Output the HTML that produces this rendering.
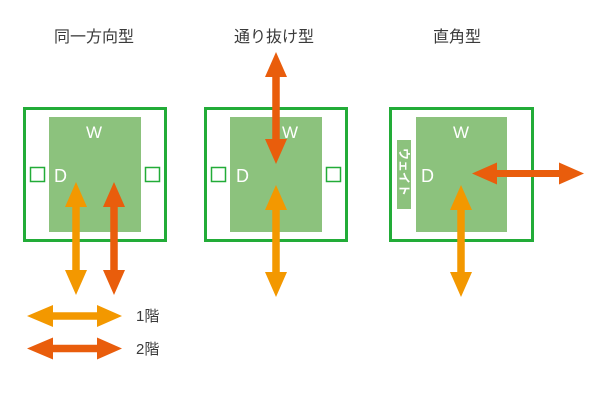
<!DOCTYPE html>
<html><head><meta charset="utf-8"><style>
html,body{margin:0;padding:0;background:#fff;}
svg{display:block;}
text{font-family:"Liberation Sans","Noto Sans CJK JP",sans-serif;}
</style></head><body>
<svg width="600" height="400" viewBox="0 0 600 400" xmlns="http://www.w3.org/2000/svg">
<rect width="600" height="400" fill="#fff"/>
<!-- titles -->
<g fill="#3a3a3a" font-size="16" text-anchor="middle">
<text x="94" y="42">同一方向型</text>
<text x="274" y="42">通り抜け型</text>
<text x="457" y="42">直角型</text>
</g>
<!-- panel 1 -->
<rect x="24.5" y="108.5" width="141" height="132" fill="none" stroke="#22ac38" stroke-width="3"/>
<rect x="49" y="117" width="92" height="115" fill="#8cc27d"/>
<rect x="30.5" y="167.5" width="14" height="14" fill="none" stroke="#22ac38" stroke-width="1.5"/>
<rect x="145.5" y="167.5" width="14" height="14" fill="none" stroke="#22ac38" stroke-width="1.5"/>
<text x="94" y="138" fill="#fff" font-size="17" text-anchor="middle">W</text>
<text x="54" y="182" fill="#fff" font-size="18">D</text>
<!-- panel 2 -->
<rect x="205.5" y="108.5" width="141" height="132" fill="none" stroke="#22ac38" stroke-width="3"/>
<rect x="230" y="117" width="92" height="115" fill="#8cc27d"/>
<rect x="211.5" y="167.5" width="14" height="14" fill="none" stroke="#22ac38" stroke-width="1.5"/>
<rect x="326.5" y="167.5" width="14" height="14" fill="none" stroke="#22ac38" stroke-width="1.5"/>
<text x="290" y="138" fill="#fff" font-size="17" text-anchor="middle">W</text>
<text x="236" y="182" fill="#fff" font-size="18">D</text>
<!-- panel 3 -->
<rect x="390.5" y="108.5" width="142" height="132" fill="none" stroke="#22ac38" stroke-width="3"/>
<rect x="416" y="117" width="91" height="115" fill="#8cc27d"/>
<rect x="397" y="140" width="14" height="69" fill="#8cc27d"/>
<text transform="translate(400,172) rotate(90)" fill="#fff" font-size="12" font-weight="bold" text-anchor="middle">ウェイト</text>
<text x="461" y="138" fill="#fff" font-size="17" text-anchor="middle">W</text>
<text x="421" y="182" fill="#fff" font-size="18">D</text>
<!-- arrows -->
<g>
<polygon fill="#f39800" points="76,182 87,207 79.75,207 79.75,270 87,270 76,295 65,270 72.25,270 72.25,207 65,207"/>
<polygon fill="#e95d0c" points="114,182 125,207 117.75,207 117.75,270 125,270 114,295 103,270 110.25,270 110.25,207 103,207"/>
<polygon fill="#e95d0c" points="276,52 287,77 279.75,77 279.75,139 287,139 276,164 265,139 272.25,139 272.25,77 265,77"/>
<polygon fill="#f39800" points="276,185 287,210 279.75,210 279.75,272 287,272 276,297 265,272 272.25,272 272.25,210 265,210"/>
<polygon fill="#f39800" points="461,185 472,210 464.75,210 464.75,272 472,272 461,297 450,272 457.25,272 457.25,210 450,210"/>
<polygon fill="#e95d0c" points="472,173.5 497,162.5 497,170 559,170 559,162.5 584,173.5 559,184.5 559,177 497,177 497,184.5"/>
<polygon fill="#f39800" points="27,316 53,305 53,312.3 97,312.3 97,305 122,316 97,327 97,319.7 53,319.7 53,327"/>
<polygon fill="#e95d0c" points="27,348.5 53,337.5 53,344.8 97,344.8 97,337.5 122,348.5 97,359.5 97,352.2 53,352.2 53,359.5"/>
</g>
<g fill="#3a3a3a" font-size="15">
<text x="136" y="321">1階</text>
<text x="136" y="354">2階</text>
</g>
</svg>
</body></html>
